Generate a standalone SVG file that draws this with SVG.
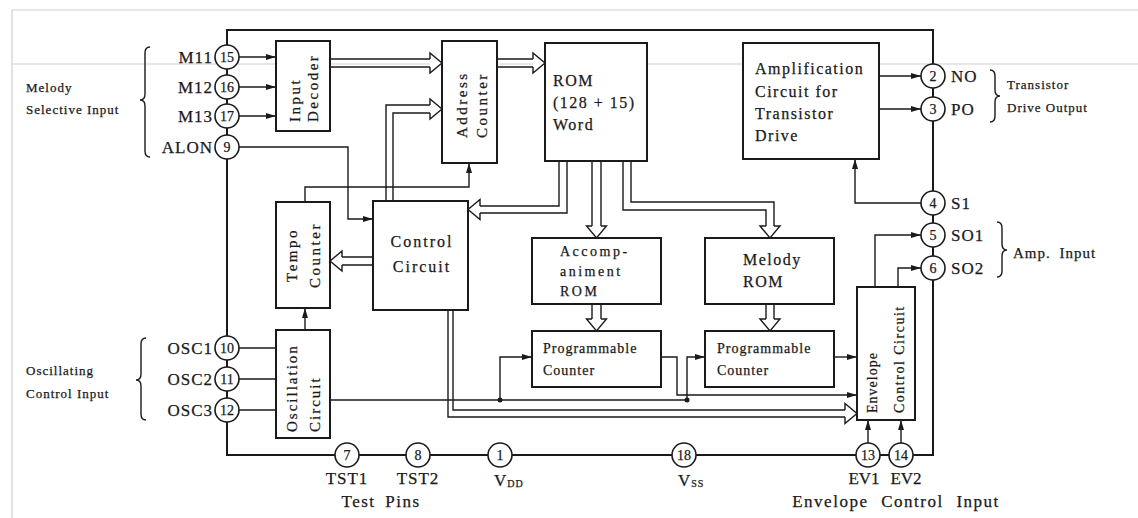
<svg xmlns="http://www.w3.org/2000/svg" width="1138" height="518" viewBox="0 0 1138 518">
<style>
.t{font-family:"Liberation Serif","Times New Roman",serif;fill:#1a1a1a;stroke:#1a1a1a;stroke-width:0.25}
.b{font-size:16px;letter-spacing:1.5px}
.s14{font-size:14px;letter-spacing:1.5px}
.pl{font-size:17px;letter-spacing:1px}
.num{font-size:14px;text-anchor:middle}
.sm{font-size:13px;letter-spacing:1px}
.v{font-size:15px;letter-spacing:2.5px}
.box{fill:#fff;stroke:#1a1a1a;stroke-width:2}
.pinc{fill:#fff;stroke:#1a1a1a;stroke-width:1.6}
.w{fill:none;stroke:#1a1a1a;stroke-width:1.4}
.bus{fill:none;stroke:#1a1a1a;stroke-width:1.4}
.head{fill:#fff;stroke:#1a1a1a;stroke-width:1.4;stroke-linejoin:miter}
.ghost{stroke:#cfcfcf;stroke-width:1.2;fill:none}
</style>
<defs>
<marker id="a" viewBox="0 0 10 6" refX="10" refY="3" markerWidth="10" markerHeight="6" markerUnits="userSpaceOnUse" orient="auto"><path d="M0,0 L10,3 L0,6 z" fill="#1a1a1a"/></marker>
</defs>
<rect width="1138" height="518" fill="#fff"/>
<g id="scan-lines">
<path class="ghost" d="M12,10 V518 M12,10 H1138 M12,64 H1138"/>
</g>
<g id="chip-outline">
<path d="M227,455 V30 H933 V455 Z" fill="none" stroke="#1a1a1a" stroke-width="2"/>
</g>
<g id="connectors">
<path class="w" d="M239,57 H276" marker-end="url(#a)"/>
<path class="w" d="M239,87 H276" marker-end="url(#a)"/>
<path class="w" d="M239,116 H276" marker-end="url(#a)"/>
<path class="w" d="M239,147 H348 V219 H373" marker-end="url(#a)"/>
<path class="w" d="M305,202 V187 H469 V163" marker-end="url(#a)"/>
<path class="w" d="M305,330 V308" marker-end="url(#a)"/>
<path class="w" d="M239,348 H276 M239,379 H276 M239,410 H276"/>
<path class="w" d="M330,400 H687"/>
<path class="w" d="M500,400 V357 H532" marker-end="url(#a)"/>
<path class="w" d="M687,400 V357 H705" marker-end="url(#a)"/>
<circle cx="500" cy="400" r="2.5" fill="#1a1a1a"/>
<circle cx="687" cy="400" r="2.5" fill="#1a1a1a"/>
<path class="w" d="M661,357 H677 V395 H857" marker-end="url(#a)"/>
<path class="w" d="M834,357 H857" marker-end="url(#a)"/>
<path class="w" d="M875,287 V235 H921" marker-end="url(#a)"/>
<path class="w" d="M898,287 V268 H921" marker-end="url(#a)"/>
<path class="w" d="M868,443 V420" marker-end="url(#a)"/>
<path class="w" d="M901,443 V420" marker-end="url(#a)"/>
<path class="w" d="M879,76 H921" marker-end="url(#a)"/>
<path class="w" d="M879,109 H921" marker-end="url(#a)"/>
<path class="w" d="M921,203 H855 V159" marker-end="url(#a)"/>
<path class="bus" d="M330,59 H430 M330,67 H430"/>
<path class="head" d="M430,59 L430,53 L442,63 L430,73 L430,67"/>
<path class="bus" d="M497,59 H533 M497,67 H533"/>
<path class="head" d="M533,59 L533,53 L545,63 L533,73 L533,67"/>
<path class="bus" d="M386,201 V105 H430 M393,201 V113 H430"/>
<path class="head" d="M430,105 L430,99 L442,109 L430,119 L430,113"/>
<path class="bus" d="M373,257 H342 M373,265 H342"/>
<path class="head" d="M342,257 L342,251 L330,261 L342,271 L342,265"/>
<path class="bus" d="M559,161 V206 H480 M567,161 V213 H480"/>
<path class="head" d="M480,206 L480,199.5 L468,209.5 L480,219.5 L480,213"/>
<path class="bus" d="M592,161 V226 M601,161 V226"/>
<path class="head" d="M592,226 L586.5,226 L596.5,238 L606.5,226 L601,226"/>
<path class="bus" d="M623,161 V210 H766 V226 M631,161 V202 H774 V226"/>
<path class="head" d="M766,226 L760,226 L770,238 L780,226 L774,226"/>
<path class="bus" d="M592,304 V319 M601,304 V319"/>
<path class="head" d="M592,319 L586.5,319 L596.5,331 L606.5,319 L601,319"/>
<path class="bus" d="M766,304 V319 M774,304 V319"/>
<path class="head" d="M766,319 L760,319 L770,331 L780,319 L774,319"/>
<path class="bus" d="M448,310 V417 H845 M453,310 V410 H845"/>
<path class="head" d="M845,410 L845,403.5 L857,413.5 L845,423.5 L845,417"/>
</g>
<g id="input-decoder">
<rect class="box" x="276" y="41" width="54" height="90"/>
<text class="t v" transform="translate(300,122) rotate(-90)">Input</text>
<text class="t v" transform="translate(318,122) rotate(-90)">Decoder</text>
</g>
<g id="address-counter">
<rect class="box" x="442" y="41" width="55" height="122"/>
<text class="t v" transform="translate(467,138) rotate(-90)">Address</text>
<text class="t v" transform="translate(487,138) rotate(-90)">Counter</text>
</g>
<g id="rom">
<rect class="box" x="545" y="43" width="102" height="118"/>
<text class="t b" x="553" y="86">ROM</text>
<text class="t b" x="553" y="108">(128 + 15)</text>
<text class="t b" x="553" y="130">Word</text>
</g>
<g id="amplification">
<rect class="box" x="743" y="43" width="136" height="116"/>
<text class="t b" x="755" y="74">Amplification</text>
<text class="t b" x="755" y="97">Circuit for</text>
<text class="t b" x="755" y="119">Transistor</text>
<text class="t b" x="755" y="141">Drive</text>
</g>
<g id="tempo-counter">
<rect class="box" x="276" y="202" width="54" height="106"/>
<text class="t v" text-anchor="middle" transform="translate(297,255) rotate(-90)">Tempo</text>
<text class="t v" text-anchor="middle" transform="translate(320,255) rotate(-90)">Counter</text>
</g>
<g id="control-circuit">
<rect class="box" x="373" y="201" width="95" height="109"/>
<text class="t b" x="422" y="247" text-anchor="middle" style="letter-spacing:2px">Control</text>
<text class="t b" x="422" y="272" text-anchor="middle" style="letter-spacing:2px">Circuit</text>
</g>
<g id="accompaniment-rom">
<rect class="box" x="532" y="238" width="129" height="66"/>
<text class="t s14" x="560" y="256" style="letter-spacing:2.5px">Accomp-</text>
<text class="t s14" x="560" y="276" style="letter-spacing:2.5px">animent</text>
<text class="t s14" x="560" y="296" style="letter-spacing:2.5px">ROM</text>
</g>
<g id="melody-rom">
<rect class="box" x="705" y="238" width="129" height="66"/>
<text class="t b" x="743" y="265">Melody</text>
<text class="t b" x="743" y="287">ROM</text>
</g>
<g id="programmable-counter-1">
<rect class="box" x="532" y="331" width="129" height="56"/>
<text class="t s14" x="543" y="353" style="letter-spacing:1px">Programmable</text>
<text class="t s14" x="543" y="375" style="letter-spacing:1px">Counter</text>
</g>
<g id="programmable-counter-2">
<rect class="box" x="705" y="331" width="129" height="56"/>
<text class="t s14" x="717" y="353" style="letter-spacing:1px">Programmable</text>
<text class="t s14" x="717" y="375" style="letter-spacing:1px">Counter</text>
</g>
<g id="oscillation-circuit">
<rect class="box" x="276" y="330" width="54" height="108"/>
<text class="t v" style="letter-spacing:2px" transform="translate(297,432) rotate(-90)">Oscillation</text>
<text class="t v" style="letter-spacing:2px" transform="translate(320,432) rotate(-90)">Circuit</text>
</g>
<g id="envelope-control">
<rect class="box" x="857" y="287" width="58" height="133"/>
<text class="t s14" style="letter-spacing:1px" transform="translate(877,413) rotate(-90)">Envelope</text>
<text class="t s14" style="letter-spacing:1.5px" transform="translate(904,413) rotate(-90)">Control Circuit</text>
</g>
<g id="pins">
<circle class="pinc" cx="227" cy="57" r="12"/><text class="t num" x="227" y="62">15</text>
<circle class="pinc" cx="227" cy="87" r="12"/><text class="t num" x="227" y="92">16</text>
<circle class="pinc" cx="227" cy="116" r="12"/><text class="t num" x="227" y="121">17</text>
<circle class="pinc" cx="227" cy="147" r="12"/><text class="t num" x="227" y="152">9</text>
<circle class="pinc" cx="227" cy="348" r="12"/><text class="t num" x="227" y="353">10</text>
<circle class="pinc" cx="227" cy="379" r="12"/><text class="t num" x="227" y="384">11</text>
<circle class="pinc" cx="227" cy="410" r="12"/><text class="t num" x="227" y="415">12</text>
<circle class="pinc" cx="933" cy="76" r="12"/><text class="t num" x="933" y="81">2</text>
<circle class="pinc" cx="933" cy="109" r="12"/><text class="t num" x="933" y="114">3</text>
<circle class="pinc" cx="933" cy="203" r="12"/><text class="t num" x="933" y="208">4</text>
<circle class="pinc" cx="933" cy="235" r="12"/><text class="t num" x="933" y="240">5</text>
<circle class="pinc" cx="933" cy="268" r="12"/><text class="t num" x="933" y="273">6</text>
<circle class="pinc" cx="347" cy="455" r="12"/><text class="t num" x="347" y="460">7</text>
<circle class="pinc" cx="418" cy="455" r="12"/><text class="t num" x="418" y="460">8</text>
<circle class="pinc" cx="500" cy="455" r="12"/><text class="t num" x="500" y="460">1</text>
<circle class="pinc" cx="684" cy="455" r="12"/><text class="t num" x="684" y="460">18</text>
<circle class="pinc" cx="868" cy="455" r="12"/><text class="t num" x="868" y="460">13</text>
<circle class="pinc" cx="901" cy="455" r="12"/><text class="t num" x="901" y="460">14</text>
</g>
<g id="pin-labels">
<text class="t pl" x="213" y="63" text-anchor="end">M11</text>
<text class="t pl" x="213" y="93" text-anchor="end">M12</text>
<text class="t pl" x="213" y="122" text-anchor="end">M13</text>
<text class="t pl" x="213" y="153" text-anchor="end">ALON</text>
<text class="t pl" x="213" y="354" text-anchor="end">OSC1</text>
<text class="t pl" x="213" y="385" text-anchor="end">OSC2</text>
<text class="t pl" x="213" y="416" text-anchor="end">OSC3</text>
<text class="t pl" x="951" y="82">NO</text>
<text class="t pl" x="951" y="115">PO</text>
<text class="t pl" x="951" y="209">S1</text>
<text class="t pl" x="951" y="241">SO1</text>
<text class="t pl" x="951" y="274">SO2</text>
<text class="t pl" x="347" y="484" text-anchor="middle">TST1</text>
<text class="t pl" x="418" y="484" text-anchor="middle">TST2</text>
<text class="t pl" x="381" y="507" text-anchor="middle" style="letter-spacing:1.5px;word-spacing:4px">Test Pins</text>
<text class="t pl" x="494" y="486">V<tspan font-size="10" dy="1">DD</tspan></text>
<text class="t pl" x="678" y="486">V<tspan font-size="10" dy="1">SS</tspan></text>
<text class="t pl" x="864" y="484" text-anchor="middle" style="letter-spacing:0">EV1</text>
<text class="t pl" x="906" y="484" text-anchor="middle" style="letter-spacing:0">EV2</text>
<text class="t pl" x="896" y="507" text-anchor="middle" style="letter-spacing:1.5px;word-spacing:7px">Envelope Control Input</text>
</g>
<g id="group-labels">
<text class="t sm" x="26" y="92">Melody</text>
<text class="t sm" x="26" y="114">Selective Input</text>
<text class="t sm" x="26" y="375">Oscillating</text>
<text class="t sm" x="26" y="398">Control Input</text>
<text class="t sm" x="1007" y="89">Transistor</text>
<text class="t sm" x="1007" y="112">Drive Output</text>
<text class="t" x="1013" y="258" style="font-size:15px;letter-spacing:1px;word-spacing:4px">Amp. Input</text>
<path class="w" d="M150,47 Q145,47 145,53 L145,94 Q145,100 140,100 Q145,100 145,106 L145,151 Q145,157 150,157"/>
<path class="w" d="M146,338 Q141,338 141,344 L141,374 Q141,380 136,380 Q141,380 141,386 L141,414 Q141,420 146,420"/>
<path class="w" d="M990,70 Q995,70 995,76 L995,90 Q995,96 1000,96 Q995,96 995,102 L995,116 Q995,122 990,122"/>
<path class="w" d="M997,222 Q1002,222 1002,228 L1002,244 Q1002,250 1007,250 Q1002,250 1002,256 L1002,271 Q1002,277 997,277"/>
</g>
</svg>
